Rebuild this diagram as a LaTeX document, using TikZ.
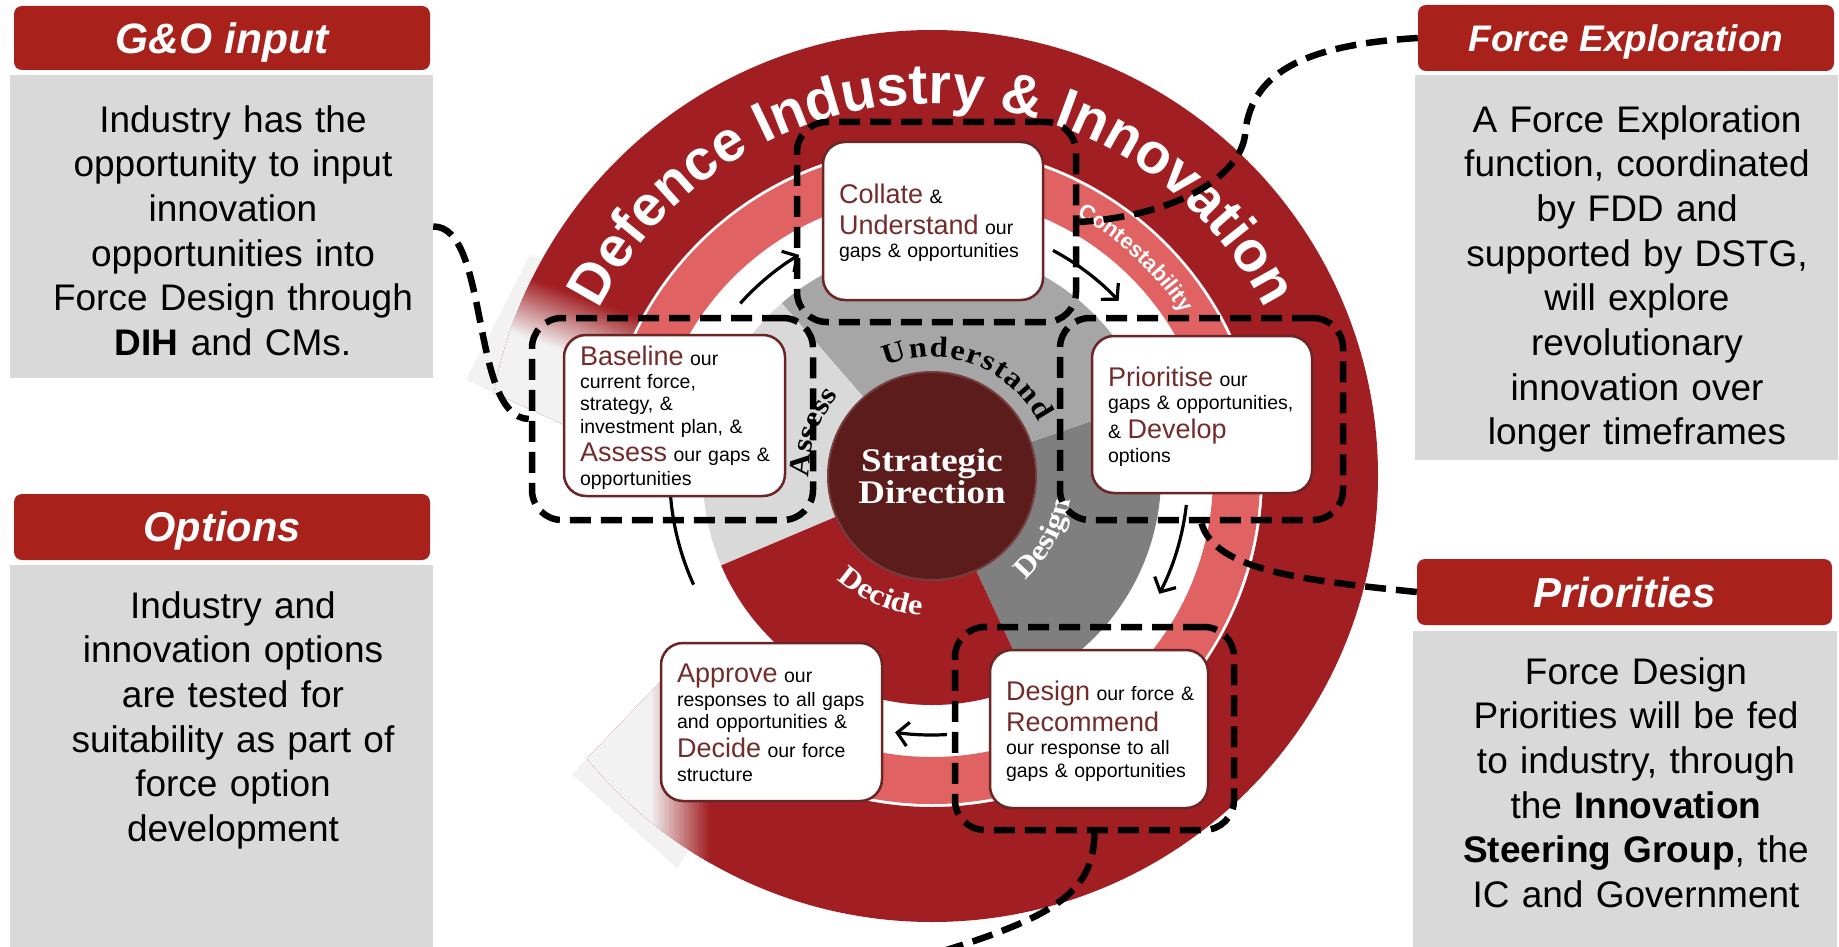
\documentclass[tikz,border=0pt]{standalone}
\usepackage{fontspec}
\setmainfont{Liberation Sans}
\newfontfamily\serifb{Liberation Serif}[FakeStretch=1.12]
\usetikzlibrary{arrows.meta,decorations.text,calc}

\definecolor{bandred}{HTML}{A11E22}
\definecolor{hdrred}{HTML}{A8211B}
\definecolor{salmon}{HTML}{E06262}
\definecolor{gUnd}{HTML}{A6A6A6}
\definecolor{gDes}{HTML}{7F7F7F}
\definecolor{gAss}{HTML}{D9D9D9}
\definecolor{centre}{HTML}{5C1C1C}
\definecolor{boxline}{HTML}{6B2525}
\definecolor{kwred}{HTML}{742B2B}
\definecolor{panelgray}{HTML}{D9D9D9}
\definecolor{palegray}{HTML}{F2F2F2}

\newcommand\kw[1]{{\fontsize{27pt}{27pt}\selectfont\color{kwred}\rule[-5.4pt]{0pt}{29.2pt}#1}}
\newcommand\sst{\rule[-3.9pt]{0pt}{21.1pt}}
\newcommand\boxfont{\fontsize{19.5pt}{1pt}\selectfont}

\begin{document}
\lineskip=0pt
\lineskiplimit=0pt
\begin{tikzpicture}[x=1pt,y=-1pt,
  stepbox/.style={draw=boxline, line width=2.5pt, fill=white, rounded corners=22pt, align=left,
    inner xsep=16pt, inner ysep=0pt, font=\boxfont},
  dashbox/.style={draw=black, line width=6.5pt, dash pattern=on 21pt off 10pt, rounded corners=30pt, inner sep=0pt},
  dashconn/.style={draw=black, line width=6.5pt, dash pattern=on 21pt off 10pt},
  flowarrow/.style={draw=black, line width=3.2pt, -{Straight Barb[length=11pt,width=24pt]}},
  hdr/.style={fill=hdrred, rounded corners=8pt, text=white, inner sep=0pt, text depth=0pt},
  panel/.style={fill=panelgray, inner sep=0pt},
  paneltext/.style={align=center, text width=420pt, inner sep=0pt, anchor=north, font=\fontsize{37pt}{44.7pt}\selectfont},
]
\path[use as bounding box, fill=white] (0,0) rectangle (1839,947);

% ---------- side panels ----------
\node[panel, minimum width=423pt, minimum height=303pt] (gobody) at (221.5,226.5) {};
\node[hdr, minimum width=416pt, minimum height=64pt, font=\fontsize{42.5pt}{42.5pt}\selectfont\bfseries\itshape, text height=30.4pt] (gohdr) at (222,38) {G\&O input};
\node[paneltext] (gotext) at (233,105) {Industry has the\\opportunity to input\\innovation\\opportunities into\\Force Design through\\\textbf{DIH} and CMs.};

\node[panel, minimum width=423pt, minimum height=390pt] (opbody) at (221.5,760) {};
\node[hdr, minimum width=416pt, minimum height=66pt, font=\fontsize{41.6pt}{41.6pt}\selectfont\bfseries\itshape, text height=29.8pt] (ophdr) at (222,527) {Options};
\node[paneltext] (optext) at (233,591) {Industry and\\innovation options\\are tested for\\suitability as part of\\force option\\development};

\node[panel, minimum width=423pt, minimum height=385pt] (febody) at (1626.5,267.5) {};
\node[hdr, minimum width=416pt, minimum height=66pt, font=\fontsize{37pt}{37pt}\selectfont\bfseries\itshape, text height=26.5pt] (fehdr) at (1626,38) {Force Exploration};
\node[paneltext] (fetext) at (1637,105) {A Force Exploration\\function, coordinated\\by FDD and\\supported by DSTG,\\will explore\\revolutionary\\innovation over\\longer timeframes};

\node[panel, minimum width=424pt, minimum height=324pt] (prbody) at (1625,793) {};
\node[hdr, minimum width=415pt, minimum height=66pt, font=\fontsize{42pt}{42pt}\selectfont\bfseries\itshape, text height=30pt] (prhdr) at (1624.5,592) {Priorities};
\node[paneltext] (prtext) at (1636,657) {Force Design\\Priorities will be fed\\to industry, through\\the \textbf{Innovation}\\\textbf{Steering Group}, the\\IC and Government};

% ---------- outer band (C shape with faded arrow ends) ----------
\coordinate (O) at (932,476);
\coordinate (T1) at (466,380);
\coordinate (W1) at (530,255);
\coordinate (T2) at (572,774);
\coordinate (W2) at (677,868);
\coordinate (X) at (802,534);
\coordinate (A1) at (527,338);
\coordinate (A2) at (650,790);
\begin{scope}
  \clip (W1) -- (T1) -- (X) -- (T2) -- (782,962) -- (1900,1000) -- (1900,-50) -- (592,-50) -- cycle;
  % pale arrow wedges
  \fill[palegray] (T1) -- (W1) -- (548,262) -- (600,441) -- cycle;
  \fill[palegray] (T2) -- (675,666) -- (689,850) -- (W2) -- cycle;
  % red band
  \fill[bandred, even odd rule] (O) circle[radius=446] (O) circle[radius=331];
  % fades
  \begin{scope}[even odd rule]
    \clip (O) circle[radius=446] (O) circle[radius=331];
    \begin{scope}[shift={(A1)},rotate=70]
      \fill[palegray] (-160,-135) rectangle (0.5,135);
      \foreach \i in {0,...,23}{
        \pgfmathsetmacro\pct{100*(\i+0.5)/24}
        \fill[bandred!\pct!palegray] ({\i*58/24},-135) rectangle ({(\i+1)*58/24+0.5},135);
      }
    \end{scope}
    \begin{scope}[shift={(A2)}]
      \fill[palegray] (-160,-135) rectangle (0.5,135);
      \foreach \i in {0,...,23}{
        \pgfmathsetmacro\pct{100*(\i+0.5)/24}
        \fill[bandred!\pct!palegray] ({\i*60/24},-135) rectangle ({(\i+1)*60/24+0.5},135);
      }
    \end{scope}
  \end{scope}
\end{scope}

% salmon ring
\fill[salmon] ($(O)+(-160:328)$) arc[start angle=-160,end angle=142,radius=328]
  -- ($(O)+(142:281)$) arc[start angle=142,end angle=-160,radius=281] -- cycle;

% inner sectors
\fill[gDes] (O) -- ($(O)+(65:229)$) arc[start angle=65,end angle=-19,radius=229] -- cycle;
\fill[gUnd] (O) -- ($(O)+(-19:229)$) arc[start angle=-19,end angle=-131,radius=229] -- cycle;
\fill[gAss] (O) -- ($(O)+(-131:229)$) arc[start angle=-131,end angle=-203,radius=229] -- cycle;
\fill[bandred] (O) -- ($(O)+(-203:229)$) arc[start angle=-203,end angle=-295,radius=229] -- cycle;

% centre
\node[circle, fill=centre, draw=centre!85!white, line width=2pt, minimum size=208pt, inner sep=0pt,
  align=center, text=white, font=\serifb\bfseries\fontsize{33pt}{32pt}\selectfont] (sd) at (O) {Strategic\\Direction};

% ring texts
\path[decorate, decoration={text along path, text align=center, text color=white,
  text={|\fontsize{57pt}{57pt}\selectfont\bfseries|Defence Industry {\&} Innovation}}]
  ($(O)+(-170:372)$) arc[start angle=-170,end angle=-10,radius=372];
\path[decorate, decoration={text along path, text align=center, text color=white,
  text={|\fontsize{22pt}{22pt}\selectfont\bfseries|Contestability}}]
  ($(O)+(-72:298)$) arc[start angle=-72,end angle=-22,radius=298];
\path[decorate, decoration={text along path, text align=fit to path, text color=black,
  text={|\serifb\bfseries\fontsize{29pt}{29pt}\selectfont|Understand}}]
  ($(O)+(-112.8:119)$) arc[start angle=-112.8,end angle=-26.8,radius=119];
\path[decorate, decoration={text along path, text align=center, text color=black,
  text={|\serifb\bfseries\fontsize{29pt}{29pt}\selectfont|Assess}}]
  ($(O)+(-182:123)$) arc[start angle=-182,end angle=-138,radius=123];
\path[decorate, decoration={text along path, text align=center, text color=white,
  text={|\serifb\bfseries\fontsize{29pt}{29pt}\selectfont|Design}}]
  ($(O)+(52:140)$) arc[start angle=52,end angle=6,radius=140];
\path[decorate, decoration={text along path, text align=center, text color=white,
  text={|\serifb\bfseries\fontsize{29pt}{29pt}\selectfont|Decide}}]
  ($(O)+(-224:140)$) arc[start angle=-224,end angle=-269,radius=140];

% flow arrows
\coordinate (a1) at ($(O)+(-138:258)$);
\coordinate (a2) at ($(O)+(-61.8:256)$);
\coordinate (a3) at ($(O)+(6.5:256)$);
\coordinate (a4) at ($(O)+(86.7:259)$);
\coordinate (a5) at ($(O)+(-204.5:262)$);
\draw[flowarrow] (a1) arc[start angle=-138,end angle=-121,radius=258];
\draw[flowarrow] (a2) arc[start angle=-61.8,end angle=-43.2,radius=256];
\draw[flowarrow] (a3) arc[start angle=6.5,end angle=27.4,radius=256];
\draw[flowarrow] (a4) arc[start angle=86.7,end angle=98.2,radius=259];
\draw[flowarrow] (a5) arc[start angle=-204.5,end angle=-174.3,radius=262];

% step boxes
\node[stepbox, text width=188pt, minimum height=158pt] (colbox) at (933,221)
  {\kw{Collate}~\&\sst\\\kw{Understand}~our\sst\\gaps~\&~opportunities\sst};
\node[stepbox, text width=189pt, minimum height=161pt] (basebox) at (674.5,415.5)
  {\kw{Baseline}~our\sst\\current~force,\sst\\strategy,~\&\sst\\investment~plan,~\&\sst\\\kw{Assess}~our~gaps~\&\sst\\opportunities\sst};
\node[stepbox, text width=188pt, minimum height=157pt] (priobox) at (1202,414.5)
  {\kw{Prioritise}~our\sst\\gaps~\&~opportunities,\sst\\\&~\kw{Develop}\sst\\options\sst};
\node[stepbox, text width=186pt, minimum height=158pt] (desbox) at (1099,729)
  {\kw{Design}~our~force~\&\sst\\\kw{Recommend}\sst\\our~response~to~all\sst\\gaps~\&~opportunities\sst};
\node[stepbox, text width=189pt, minimum height=158pt] (appbox) at (771.5,722)
  {\kw{Approve}~our\sst\\responses~to~all~gaps\sst\\and~opportunities~\&\sst\\\kw{Decide}~our~force\sst\\structure\sst};

% dashed frames
\node[dashbox, minimum width=279pt, minimum height=200pt] (cdash) at (936.5,222) {};
\node[dashbox, minimum width=281pt, minimum height=202pt] (bdash) at (672.5,419) {};
\node[dashbox, minimum width=283pt, minimum height=202pt] (pdash) at (1201.5,419) {};
\node[dashbox, minimum width=279pt, minimum height=203pt] (ddash) at (1094.5,728.5) {};

% dashed connectors
\coordinate (botend) at (940,952);
\draw[dashconn] (gobody.east) .. controls (490,226) and (470,417) .. (bdash.west);
\draw[dashconn] (fehdr.west) .. controls (1300,45) and (1250,75) .. (1245,135)
  .. controls (1240,175) and (1180,215) .. (cdash.east);
\draw[dashconn] (prhdr.west) .. controls (1300,580) and (1215,570) .. (pdash.south);
\draw[dashconn] (ddash.south) .. controls (1093,890) and (1060,915) .. (botend);
\end{tikzpicture}
\end{document}
